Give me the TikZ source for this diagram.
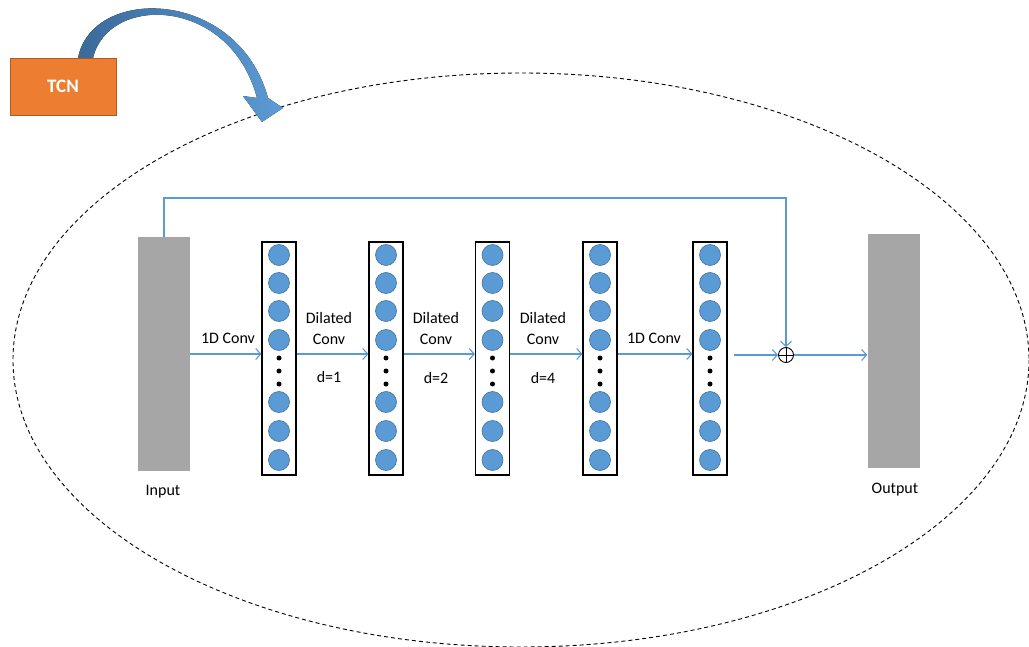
\documentclass[tikz,border=0pt]{standalone}
\usepackage{fontspec}
\setmainfont{Carlito}
\usetikzlibrary{arrows.meta}
\definecolor{unitfill}{HTML}{5B9BD5}
\definecolor{unitedge}{HTML}{41719C}
\definecolor{tcnorange}{HTML}{ED7D31}
\definecolor{tcnedge}{HTML}{AE5A21}
\definecolor{slab}{HTML}{A6A6A6}
\definecolor{bendlight}{HTML}{5B9BD5}
\definecolor{benddark}{HTML}{3A6A9A}
\begin{document}
\begin{tikzpicture}[x=1pt,y=-1pt,
  slabbox/.style={fill=slab, draw=none, minimum width=52pt, minimum height=234pt, inner sep=0pt},
  colbox/.style={draw=black, line width=1.1pt, minimum width=34pt, minimum height=233pt, inner sep=0pt},
  unit/.style={circle, fill=unitfill, draw=unitedge, line width=0.6pt, minimum size=21pt, inner sep=0pt},
  dot/.style={circle, fill=black, minimum size=5pt, inner sep=0pt},
  conn/.style={draw=unitfill, line width=1.1pt, -{Straight Barb[length=5pt,width=11pt]}},
  lbl/.style={font=\fontsize{16}{21}\selectfont, align=center, inner sep=0pt},
  tcnbox/.style={fill=tcnorange, draw=tcnedge, line width=0.8pt, minimum width=106pt, minimum height=57pt,
    inner sep=0pt, text=white, font=\fontsize{19}{21}\selectfont\bfseries},
  sumnode/.style={circle, draw=black, line width=0.9pt, minimum size=15pt, inner sep=0pt}
]
\useasboundingbox (0,0) rectangle (1029,647);
\clip (0,0) rectangle (1029,647);

% dashed boundary of the TCN block
\draw[dash pattern=on 4pt off 3pt, line width=0.9pt] (521,360) ellipse [x radius=508, y radius=287];

% TCN label box and its bent arrow
\node[tcnbox] (tcn) at (63,86.5) {TCN};
\fill[left color=benddark, right color=bendlight]
  (78,58) .. controls (92,-15) and (238,-12) .. (268,98)
  -- (283,108) -- (262,122) -- (243,96) -- (257,98)
  .. controls (230,-4) and (108,-6) .. (93,58) -- cycle;

% input and output slabs
\node[slabbox] (in) at (164,354) {};
\node[slabbox] (out) at (893.5,351) {};
\node[lbl] (inlbl) at (163,492) {Input};
\node[lbl] (outlbl) at (895,490) {Output};

% hidden layers: columns of units
\foreach \i/\x in {1/279,2/386,3/492.5,4/600,5/710}{
  \node[colbox] (c\i) at (\x,358.5) {};
  \foreach \j/\y in {1/255,2/283,3/311,4/340,5/402,6/431,7/460}
    \node[unit] (c\i u\j) at (\x,\y) {};
  \foreach \k/\y in {1/358,2/371,3/384}
    \node[dot] (c\i d\k) at (\x,\y) {};
}

% residual sum
\node[sumnode] (sum) at (786,355) {};
\draw[line width=0.9pt] (sum.north) -- (sum.south) (sum.west) -- (sum.east);

% forward connections
\draw[conn] (in.east |- 0,354) -- (c1.west |- 0,354);
\draw[conn] (c1.east |- 0,354) -- (c2.west |- 0,354);
\draw[conn] (c2.east |- 0,354) -- (c3.west |- 0,354);
\draw[conn] (c3.east |- 0,354) -- (c4.west |- 0,354);
\draw[conn] (c4.east |- 0,354) -- (c5.west |- 0,354);
\draw[conn, shorten <=6pt] (c5.east |- sum.west) -- (sum.west);
\draw[conn] (sum.east) -- (out.west |- sum.east);

% skip connection
\coordinate (skip) at (786,198);
\draw[conn] (in.north) |- (skip) -- (sum.north);

% layer labels
\node[lbl] (l1) at (228,338) {1D Conv};
\node[lbl] (l2) at (329,328.5) {Dilated\\Conv};
\node[lbl] (d1) at (329,377) {d=1};
\node[lbl] (l3) at (436,328.5) {Dilated\\Conv};
\node[lbl] (d2) at (436,378) {d=2};
\node[lbl] (l4) at (543,328.5) {Dilated\\Conv};
\node[lbl] (d4) at (543,378) {d=4};
\node[lbl] (l5) at (654,338) {1D Conv};
\end{tikzpicture}
\end{document}
